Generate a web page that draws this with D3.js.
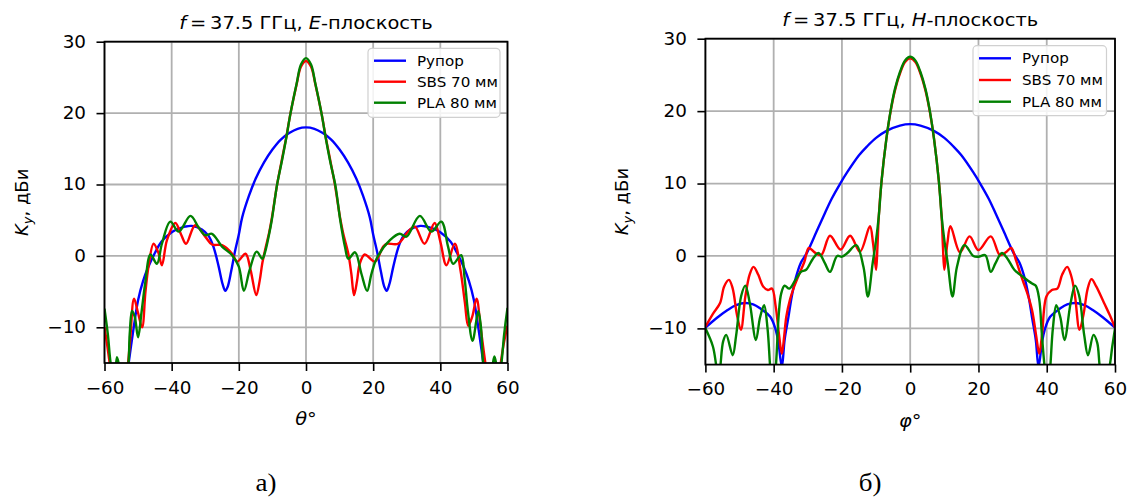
<!DOCTYPE html>
<html><head><meta charset="utf-8">
<script src="https://cdn.jsdelivr.net/npm/d3@7/dist/d3.min.js"></script>
<style>
html,body{margin:0;padding:0;background:#fff;}
svg{display:block;}
text{font-family:"DejaVu Sans",sans-serif;fill:#000;}
</style></head>
<body>
<script>
// ---------- DATA ----------
const xTicks = [-60, -40, -20, 0, 20, 40, 60];
const yTicks = [-10, 0, 10, 20, 30];
const seriesNames = ["Рупор", "SBS 70 мм", "PLA 80 мм"];
const seriesColors = ["#0000ff", "#ff0000", "#008000"];

// E-plane, horn (blue) [theta, dBi]
const eHorn = [[-60,-30],[-54,-19],[-52.8,-15],[-51.3,-10],[-50,-6.2],[-48.5,-3.5],[-47,-1.6],[-45,0.4],[-43,2.0],[-40,3.3],[-38,3.8],[-36,4.1],[-34,4.2],[-31,3.7],[-29,2.8],[-27.5,1.2],[-26,-1.5],[-24.8,-4.0],[-24,-4.9],[-23.3,-4.3],[-22.3,-2.2],[-21.2,0.5],[-20,3.0],[-19,5.4],[-17,8.4],[-15,10.8],[-12.5,13.1],[-10,14.9],[-7.5,16.3],[-5,17.2],[-2.5,17.8],[0,18.0],
  [2.5,17.8],[5,17.2],[7.5,16.3],[10,14.9],[12.5,13.1],[15,10.8],[17,8.4],[19,5.4],[20,3.0],[21.2,0.5],[22.3,-2.2],[23.3,-4.3],[24,-4.9],[24.8,-4.0],[26,-1.5],[27.5,1.2],[29,2.8],[31,3.7],[34,4.2],[36,4.1],[38,3.8],[40,3.3],[43,2.0],[45,0.4],[47,-1.6],[48.5,-3.5],[50,-6.2],[51.3,-10],[52.8,-15],[54,-19],[60,-30]];
// E-plane, SBS 70 mm (red)
const eSBS = [[-60,-10],[-59.2,-12.5],[-58.3,-15.5],[-57,-19],[-55,-20],[-53.5,-17],[-52.4,-12],[-51.2,-6.0],[-50,-8],[-48.8,-10],[-47.8,-5],[-46.9,-1.5],[-45.4,1.7],[-44,0.5],[-42.9,-1.3],[-41.4,2.2],[-38.9,4.6],[-37.2,3],[-35.7,1.7],[-33,4.3],[-30,2.7],[-28,1.6],[-25,1.5],[-22,0.3],[-20.5,-0.8],[-18,0.3],[-16.5,-2],[-14.8,-5.5],[-13.8,-3.5],[-13,-1],[-12,1.2],[-11,3.2],[-10.2,5.2],[-8.6,10],[-7.3,13.2],[-6,16.3],[-4.6,20],[-2.8,24],[-1.5,26.5],[0,27.3],
  [1.5,26.5],[2.8,24],[4.6,20],[6,16.3],[7.3,13.2],[8.6,10],[10.2,5.2],[11.1,3.1],[12.6,0.3],[13.5,-2.5],[14.3,-5.5],[15.2,-3.5],[16,-1.1],[17.5,0.2],[20.5,-0.8],[23,1.3],[24,1.7],[27.4,1.7],[30.4,3.4],[32.4,4.1],[35.3,1.7],[38.3,4.6],[40,2],[41.8,-1.3],[44.3,1.7],[46,-2],[47.3,-6.5],[48.3,-9.8],[49.5,-8.5],[50.8,-6],[52,-10],[53.4,-15],[55,-20],[57,-19],[58,-15],[59,-12],[60,-9.8]];
// E-plane, PLA 80 mm (green)
const ePLA = [[-60,-7.4],[-59,-11],[-58,-15.5],[-57,-17],[-56.3,-14.2],[-55.6,-15.5],[-54.5,-18],[-53,-15.5],[-52.5,-11],[-51.8,-7.7],[-51,-8.5],[-50,-11.4],[-49,-8],[-47.9,-3.9],[-46.3,0.2],[-44.4,-1.1],[-42.9,1.7],[-40.4,4.8],[-37.9,3.4],[-34.4,5.6],[-32,4],[-30,2.9],[-28,3.1],[-25,1.3],[-22,0.1],[-20,-1.5],[-18.5,-4.9],[-16.8,-2],[-14.7,0.6],[-13,-0.4],[-12.2,0.5],[-11,3],[-10.2,5],[-8.6,10],[-7.3,13],[-6,16.2],[-4.6,20],[-2.8,24.1],[-1.5,26.8],[0,27.7],
  [1.5,26.8],[2.8,24.1],[4.6,20],[6,16.2],[7.3,13],[8.7,10],[10.2,5],[11.6,1.3],[12.6,-0.4],[14.6,0.5],[16.5,-2.5],[18.2,-4.9],[19.5,-2.5],[21,-0.4],[25,2.2],[27.9,3.1],[29.9,2.7],[33.9,5.6],[37.3,3.4],[40.3,4.8],[42.3,1.3],[43.8,-1.1],[46.2,0.1],[47.2,-3],[48.2,-7.7],[49.6,-11.9],[51.3,-7.7],[52.1,-10],[52.9,-15.5],[54.5,-18],[55.5,-15.5],[56.1,-14.1],[56.8,-15.5],[57.5,-17],[58.2,-15],[59,-11],[60,-7.3]];

// H-plane, horn (blue) [phi, dBi]
const hHorn = [[-60,-9.9],[-56.5,-8.5],[-53.6,-7.5],[-51,-6.8],[-48.3,-6.5],[-46,-6.7],[-44.1,-7.2],[-41,-8.4],[-39.4,-10.2],[-38.6,-12],[-37.6,-15.3],[-36.8,-11.6],[-35.7,-8.5],[-34.7,-5.6],[-33.5,-3],[-32,-0.9],[-30.3,0.4],[-27.4,3.4],[-25,5.9],[-23,7.9],[-20.5,10],[-18.4,11.6],[-15,13.9],[-12.7,15.1],[-10,16.3],[-6.8,17.3],[-3,18.0],[0,18.2],
  [3,18.0],[6.8,17.3],[10,16.3],[12.7,15.1],[15,13.9],[18.4,11.6],[20.5,10],[23,7.9],[25,5.9],[27.4,3.4],[30.3,0.4],[32,-0.9],[33.5,-3],[34.7,-5.6],[35.7,-8.5],[36.8,-11.6],[37.6,-15.3],[38.6,-12],[39.4,-10.2],[41,-8.4],[44.1,-7.2],[46,-6.7],[48.3,-6.5],[51,-6.8],[53.6,-7.5],[56.5,-8.5],[60,-9.9]];
// H-plane, SBS 70 mm (red)
const hSBS = [[-60,-9.8],[-57.8,-8],[-55.7,-6.5],[-54.5,-4.2],[-53.1,-3.3],[-52,-4.5],[-50.8,-8],[-49.6,-10.2],[-48.3,-5.6],[-47,-2.5],[-45.9,-1.5],[-44.5,-2.6],[-43.1,-4.2],[-41.7,-4.7],[-40.5,-4.5],[-39.4,-7],[-38.4,-11],[-37.6,-13.5],[-36.9,-11],[-36.3,-8.4],[-35.2,-6],[-34.2,-4.5],[-32.5,-2.5],[-31,-0.8],[-29.7,1.1],[-28,0.5],[-26.1,0.1],[-23.5,2.8],[-20.4,0.9],[-17.6,2.8],[-14.7,0.6],[-11.8,4.1],[-10.9,1.8],[-10,-1.9],[-9.6,1.2],[-9.2,5.5],[-8.4,10.3],[-7,16.1],[-5.8,19.8],[-4.5,22.8],[-3,25.2],[-1.5,26.8],[0,27.3],
  [1.5,26.8],[3,25.2],[4.5,22.8],[5.8,19.8],[7,16.1],[8.4,10.3],[9.2,5.5],[9.6,1.2],[10,-1.9],[10.9,1.8],[11.8,4.1],[14.6,0.5],[17.4,2.7],[20,0.8],[23.6,2.7],[26.3,0.1],[28,0.5],[29.6,1.1],[31,-0.6],[32.6,-2.9],[34.2,-5],[35.7,-7.5],[36.9,-11],[37.8,-13.5],[38.6,-11],[39.9,-5.6],[41.5,-4.7],[43.1,-4.5],[44.5,-2.6],[46,-1.5],[47.2,-2.8],[48.3,-5.6],[49.6,-10.2],[50.8,-8],[52,-4.5],[53.1,-3.2],[54.5,-4.2],[56.8,-6.5],[58.5,-8.2],[60,-9.9]];
// H-plane, PLA 80 mm (green)
const hPLA = [[-60,-10],[-57.8,-12.5],[-56.7,-15.5],[-56.2,-16.5],[-55.7,-15.5],[-54.8,-11.8],[-53.9,-10.9],[-52,-13.7],[-51,-11],[-49.5,-5.5],[-48.3,-4.1],[-47,-6.5],[-45.2,-11.6],[-44,-8.5],[-42.8,-6.8],[-41.8,-10],[-41,-15.5],[-40.3,-19],[-39.4,-15.5],[-38.5,-8],[-37.8,-5.2],[-36.8,-4.1],[-35.4,-4.5],[-33.6,-3.3],[-32,-2.2],[-30.5,-1.9],[-28.4,-0.3],[-26.8,0.4],[-25,-1],[-23.5,-2.2],[-21.4,0],[-20,-0.1],[-18.4,0.4],[-15.8,1.5],[-13.7,-1.5],[-12.4,-5.6],[-11,-1],[-10,2.2],[-9.2,5.5],[-8.4,10.3],[-7,16.1],[-5.8,19.9],[-4.5,23],[-3,25.4],[-1.5,27],[0,27.5],
  [1.5,27],[3,25.4],[4.5,23],[5.8,19.9],[7,16.1],[8.4,10.3],[9.2,5.5],[10,2.2],[11,-1],[12.4,-5.6],[13.7,-1.5],[15.9,1.5],[18.5,0],[20,-0.1],[22,0.1],[23.6,-2.2],[25,-1],[26.8,0.4],[28.4,-0.3],[30.5,-1.9],[33.1,-2.9],[35.7,-3.8],[36.8,-4.1],[37.8,-6],[38.6,-11],[39.4,-15.5],[40.2,-19],[41,-15.5],[41.8,-10],[42.8,-6.8],[44,-8.5],[45.2,-11.6],[47,-6.5],[48.3,-4.1],[49.5,-5.5],[51,-11],[52.1,-13.7],[53.7,-10.9],[54.8,-12],[55.6,-15.5],[56.5,-17],[57.5,-16.5],[58.3,-15.5],[59.2,-12.5],[60,-10]];

const xDomain = [-60, 60];
const yDomain = [-15, 30];

// ---------- LAYOUT ----------
const W = 1131, H = 499;
const S = 1.08; // horizontal text stretch seen in the reference
const svg = d3.select("body").append("svg").attr("width", W).attr("height", H);
svg.append("rect").attr("width", W).attr("height", H).attr("fill", "#fff");
const defs = svg.append("defs");

const panels = [
  {id:"a", x0:104.5, x1:507.5, y0:41.7, y1:363, titleY:28.5, plane:"E", sym:"θ", xlabY:425, ylabX:21.7,
   data:[eHorn, eSBS, ePLA], leg:{x:368, y:48.3, w:132, h:69, rows:[60.7,81.7,102.7]}, cap:"а)", capX:266},
  {id:"b", x0:705.4, x1:1115, y0:38.7, y1:364.6, titleY:25.5, plane:"H", sym:"φ", xlabY:427, ylabX:621.8,
   data:[hHorn, hSBS, hPLA], leg:{x:973, y:45.7, w:133.5, h:70, rows:[58.3,80,101.7]}, cap:"б)", capX:870}
];

const fmt = d3.format("d");
const TS = 8, TP = 10.5;

function stretched(parent, x, y) {
  return parent.append("g").attr("transform", `translate(${x},${y}) scale(${S},1)`).append("text");
}

panels.forEach(p => {
  const x = d3.scaleLinear().domain(xDomain).range([p.x0, p.x1]);
  const y = d3.scaleLinear().domain(yDomain).range([p.y1, p.y0]);
  const g = svg.append("g");

  // grid
  g.append("g").selectAll("line").data(xTicks).join("line")
    .attr("x1", d => x(d)).attr("x2", d => x(d)).attr("y1", p.y0).attr("y2", p.y1)
    .attr("stroke", "#b0b0b0").attr("stroke-width", 1.8);
  g.append("g").selectAll("line").data(yTicks).join("line")
    .attr("y1", d => y(d)).attr("y2", d => y(d)).attr("x1", p.x0).attr("x2", p.x1)
    .attr("stroke", "#b0b0b0").attr("stroke-width", 1.8);

  // clip
  const cid = "clip-" + p.id;
  defs.append("clipPath").attr("id", cid).append("rect")
    .attr("x", p.x0).attr("y", p.y0).attr("width", p.x1 - p.x0).attr("height", p.y1 - p.y0);

  const line = d3.line().x(d => x(d[0])).y(d => y(d[1])).curve(d3.curveCatmullRom.alpha(0.5));
  const lg = g.append("g").attr("clip-path", `url(#${cid})`);
  p.data.forEach((s, i) => {
    lg.append("path").attr("d", line(s)).attr("fill", "none")
      .attr("stroke", seriesColors[i]).attr("stroke-width", 2.4).attr("stroke-linejoin", "round");
  });

  // axes
  const ax = d3.axisBottom(x).tickValues(xTicks).tickFormat(fmt).tickSize(TS).tickPadding(TP);
  const ay = d3.axisLeft(y).tickValues(yTicks).tickFormat(fmt).tickSize(TS).tickPadding(TP);
  const gx = g.append("g").attr("transform", `translate(0,${p.y1})`).call(ax);
  const gy = g.append("g").attr("transform", `translate(${p.x0},0)`).call(ay);
  [gx, gy].forEach(a => {
    a.select(".domain").remove();
    a.selectAll(".tick line").attr("stroke", "#000").attr("stroke-width", 1.6);
    a.selectAll(".tick text").attr("font-family", "DejaVu Sans").attr("font-size", 17).attr("fill", "#000")
      .attr("transform", `scale(${S},1)`);
  });
  gy.selectAll(".tick text").attr("x", -(TS + TP) / S);

  // frame
  g.append("rect").attr("x", p.x0).attr("y", p.y0).attr("width", p.x1 - p.x0).attr("height", p.y1 - p.y0)
    .attr("fill", "none").attr("stroke", "#000").attr("stroke-width", 1.8);

  // title
  const t = stretched(g, (p.x0 + p.x1) / 2, p.titleY).attr("text-anchor", "middle").attr("font-size", 18);
  t.append("tspan").attr("font-style", "italic").text("f");
  t.append("tspan").text("\u2009=\u200937.5 ГГц, ");
  t.append("tspan").attr("font-style", "italic").text(p.plane);
  t.append("tspan").text("-плоскость");

  // x label
  const xl = stretched(g, (p.x0 + p.x1) / 2, p.xlabY).attr("text-anchor", "middle").attr("font-size", 18);
  xl.append("tspan").attr("font-style", "italic").text(p.sym);
  xl.append("tspan").text("°");

  // y label
  const yc = (p.y0 + p.y1) / 2;
  const yl = g.append("text").attr("transform", `translate(${p.ylabX + 6},${yc}) rotate(-90)`)
    .attr("text-anchor", "middle").attr("font-size", 18);
  yl.append("tspan").attr("font-style", "italic").text("K");
  yl.append("tspan").attr("font-style", "italic").attr("font-size", 13).attr("dy", 4).text("y");
  yl.append("tspan").attr("dy", -4).text(", дБи");

  // legend
  const L = p.leg;
  g.append("rect").attr("x", L.x).attr("y", L.y).attr("width", L.w).attr("height", L.h)
    .attr("rx", 4).attr("fill", "#fff").attr("fill-opacity", 0.85).attr("stroke", "#d0d0d0").attr("stroke-width", 1.2);
  seriesNames.forEach((n, i) => {
    g.append("line").attr("x1", L.x + 6).attr("x2", L.x + 38).attr("y1", L.rows[i]).attr("y2", L.rows[i])
      .attr("stroke", seriesColors[i]).attr("stroke-width", 2.4);
    stretched(g, L.x + 49, L.rows[i] + 5).attr("font-size", 14).text(n);
  });

  // caption
  stretched(svg, p.capX, 491).attr("text-anchor", "middle")
    .style("font-family", "'Liberation Serif', serif").attr("font-size", 25).text(p.cap);
});
</script>
</body></html>
